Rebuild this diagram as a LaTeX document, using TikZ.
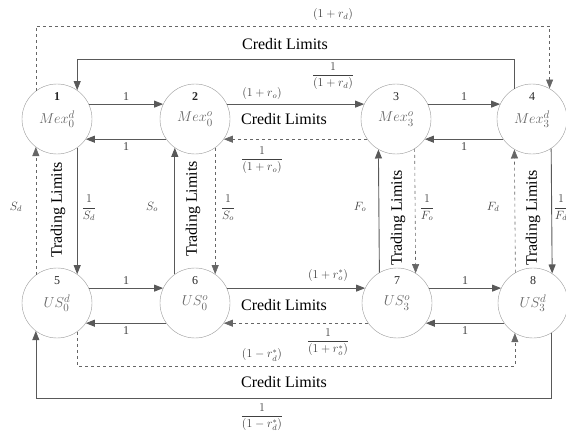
\documentclass[tikz,border=0pt]{standalone}
\usepackage{amsmath}
\usepackage{fontspec}
\setmainfont{Liberation Serif}
\usetikzlibrary{arrows.meta}

\begin{document}
\begin{tikzpicture}[
    x=1pt, y=-1pt,
    >={Triangle[length=9pt,width=7pt]},
    mkt/.style={circle, draw=black!40, minimum size=70pt, inner sep=0pt,
                font=\fontsize{15}{17}\selectfont, text=black!60},
    num/.style={yshift=22pt, inner sep=1pt, font=\fontsize{12}{14}\selectfont, text=black!85},
    flow/.style={->, draw=black!65, line width=0.9pt},
    back/.style={->, draw=black!60, dashed, line width=0.6pt},
    lab/.style={font=\fontsize{12}{14}\selectfont, text=black!75},
    lim/.style={font=\fontsize{16}{18}\selectfont},
    tlim/.style={font=\fontsize{16}{18}\selectfont, rotate=90}
]
  \useasboundingbox (0,0) rectangle (566,436);

  % markets
  \node[mkt, label={[num]center:\textbf{1}}] (n1) at (57,119) {$Mex_0^d$};
  \node[mkt, label={[num]center:\textbf{2}}] (n2) at (195,119) {$Mex_0^o$};
  \node[mkt, label={[num]center:3}] (n3) at (396,119) {$Mex_3^o$};
  \node[mkt, label={[num]center:4}] (n4) at (532,119) {$Mex_3^d$};
  \node[mkt, label={[num]center:5}] (n5) at (57,303) {$US_0^d$};
  \node[mkt, label={[num]center:6}] (n6) at (195,303) {$US_0^o$};
  \node[mkt, label={[num]center:7}] (n7) at (397,303) {$US_3^o$};
  \node[mkt, label={[num]center:8}] (n8) at (533,303) {$US_3^d$};

  \coordinate (top) at (0,26);
  \coordinate (crd) at (0,59);
  \coordinate (low) at (0,366);
  \coordinate (bot) at (0,398);

  % top row
  \draw[flow] (n1.25) -- (n2.155) node[midway, above, lab] {1};
  \draw[flow] (n2.-145) -- (n1.-35) node[midway, below, lab] {1};
  \draw[flow] (n2.25) -- (n3.155);
  \draw[back] (n3.-145) -- (n2.-35);
  \draw[flow] (n3.25) -- (n4.155) node[midway, above, lab] {1};
  \draw[flow] (n4.-145) -- (n3.-35) node[midway, below, lab] {1};

  % bottom row
  \draw[flow] (n5.25) -- (n6.155) node[midway, above, lab] {1};
  \draw[flow] (n6.-145) -- (n5.-35) node[midway, below, lab] {1};
  \draw[flow] (n6.25) -- (n7.155);
  \draw[back] (n7.-145) -- (n6.-35);
  \draw[flow] (n7.25) -- (n8.155) node[midway, above, lab] {1};
  \draw[flow] (n8.-145) -- (n7.-35) node[midway, below, lab] {1};

  % columns
  \draw[flow] (n1.-55) -- (n5.55);
  \draw[back] (n5.127) -- (n1.-127);
  \draw[flow] (n6.125) -- (n2.-125);
  \draw[back] (n2.-55) -- (n6.55);
  \draw[flow] (n7.120) -- (n3.-120);
  \draw[back] (n3.-58) -- (n7.58);
  \draw[back] (n8.120) -- (n4.-120);
  \draw[flow] (n4.-57) -- (n8.57);

  % outer loops
  \draw[back] (n1.127) -- (n1.127 |- top) -| (n4.60);
  \draw[flow, line width=0.6pt] (n4.121) -- (n4.121 |- crd) -| (n1.55);
  \draw[back] (n5.-55) -- (n5.-55 |- low) -| (n8.-121);
  \draw[flow, line width=0.6pt] (n8.-58) -- (n8.-58 |- bot) -| (n5.-127);

  % credit labels
  \node[lab] (rdtop) at (333,15) {$(1+r_d)$};
  \node[lim] (cl1) at (285,44) {Credit Limits};
  \node[lab] (fdtop) at (333,76) {$\dfrac{1}{(1+r_d)}$};
  \node[lab] (ro) at (262,94) {$(1+r_o)$};
  \node[lim] (cl2) at (284,119) {Credit Limits};
  \node[lab] (fro) at (262,160) {$\dfrac{1}{(1+r_o)}$};
  \node[lab] (ros) at (328,275) {$(1+r_o^*)$};
  \node[lim] (cl3) at (284,305) {Credit Limits};
  \node[lab] (fros) at (328,342) {$\dfrac{1}{(1+r_o^*)}$};
  \node[lab] (rds) at (262,355) {$(1-r_d^*)$};
  \node[lim] (cl4) at (284,382) {Credit Limits};
  \node[lab] (frds) at (262,417) {$\dfrac{1}{(1-r_d^*)}$};

  % trading labels
  \node[lab] (sd) at (16,207) {$S_d$};
  \node[tlim] (tl1) at (58,210) {Trading Limits};
  \node[lab] (fsd) at (89,208) {$\dfrac{1}{S_d}$};
  \node[lab] (so) at (152,207) {$S_o$};
  \node[tlim] (tl2) at (193,209) {Trading Limits};
  \node[lab] (fso) at (228,208) {$\dfrac{1}{S_o}$};
  \node[lab] (fo) at (360,207) {$F_o$};
  \node[tlim] (tl3) at (398,218) {Trading Limits};
  \node[lab] (ffo) at (427,208) {$\dfrac{1}{F_o}$};
  \node[lab] (fd) at (493,207) {$F_d$};
  \node[tlim] (tl4) at (533,218) {Trading Limits};
  \node[lab] (ffd) at (561,208) {$\dfrac{1}{F_d}$};
\end{tikzpicture}
\end{document}
